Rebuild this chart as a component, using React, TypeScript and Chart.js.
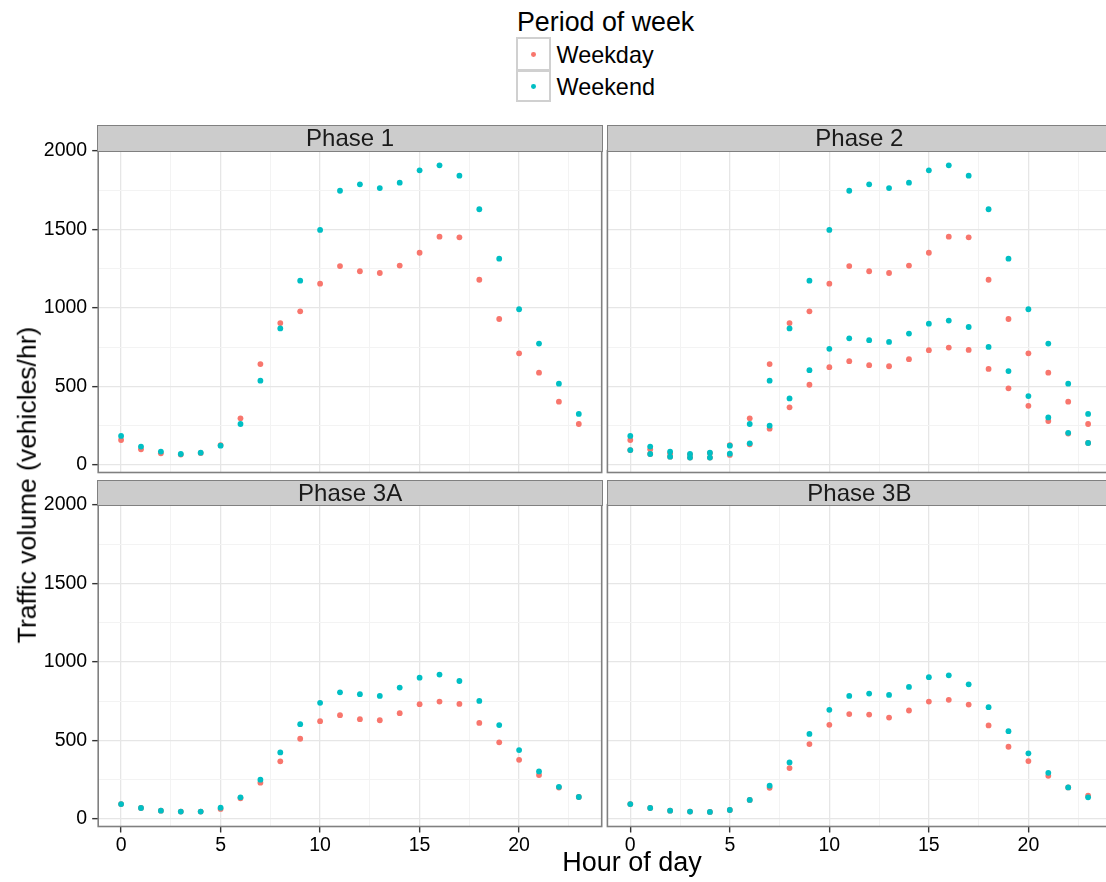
import React, { useEffect, useRef } from "react";
import { Chart, registerables } from "chart.js";

Chart.register(...registerables);

// ---------------- DATA ----------------
const hours = [0, 1, 2, 3, 4, 5, 6, 7, 8, 9, 10, 11, 12, 13, 14, 15, 16, 17, 18, 19, 20, 21, 22, 23];

const phase1Weekday = [159, 100, 74, 66, 76, 127, 297, 643, 904, 979, 1155, 1267, 1234, 1223, 1270, 1352, 1454, 1450, 1180, 930, 711, 588, 403, 261];
const phase1Weekend = [185, 117, 85, 70, 78, 123, 261, 537, 870, 1174, 1497, 1747, 1788, 1764, 1798, 1877, 1909, 1843, 1629, 1314, 992, 773, 518, 325];

const phase3AWeekday = [95, 70, 53, 47, 47, 64, 132, 231, 367, 511, 623, 661, 636, 629, 674, 731, 748, 733, 612, 488, 377, 280, 200, 140];
const phase3AWeekend = [95, 70, 53, 47, 47, 72, 138, 250, 424, 604, 740, 807, 795, 784, 837, 900, 920, 879, 752, 598, 439, 303, 205, 140];

const phase3BWeekday = [95, 70, 53, 47, 45, 57, 121, 199, 324, 477, 600, 668, 665, 646, 691, 748, 759, 729, 596, 460, 369, 275, 201, 148];
const phase3BWeekend = [95, 70, 53, 47, 45, 57, 121, 212, 360, 542, 695, 784, 799, 790, 841, 903, 915, 858, 712, 559, 418, 294, 201, 138];

const xTickValues = [0, 2.5, 5, 7.5, 10, 12.5, 15, 17.5, 20, 22.5];
const xLabelTicks = [0, 5, 10, 15, 20];
const yTickValues = [0, 250, 500, 750, 1000, 1250, 1500, 1750, 2000];
const yLabelTicks = [0, 500, 1000, 1500, 2000];
const xLimits = [-1.15, 24.15];
const yLimits = [-48, 2002];

const legendTitle = "Period of week";
const periodLabels = ["Weekday", "Weekend"];
const periodColors = ["#F8766D", "#00BFC4"];
const xTitle = "Hour of day";
const yTitle = "Traffic volume (vehicles/hr)";

type Group = { weekday: number[]; weekend: number[] };
type PanelDef = { title: string; row: number; col: number; groups: Group[] };

const panelDefs: PanelDef[] = [
  { title: "Phase 1", row: 0, col: 0, groups: [{ weekday: phase1Weekday, weekend: phase1Weekend }] },
  {
    title: "Phase 2",
    row: 0,
    col: 1,
    groups: [
      { weekday: phase1Weekday, weekend: phase1Weekend },
      { weekday: phase3AWeekday, weekend: phase3AWeekend },
    ],
  },
  { title: "Phase 3A", row: 1, col: 0, groups: [{ weekday: phase3AWeekday, weekend: phase3AWeekend }] },
  { title: "Phase 3B", row: 1, col: 1, groups: [{ weekday: phase3BWeekday, weekend: phase3BWeekend }] },
];

// ---------------- LAYOUT ----------------
const FONT = '"Liberation Sans", Arial, Helvetica, sans-serif';
const COL_LEFT = [98.2, 607.4];
const COL_RIGHT = [601.7, 1111];
const ROW_TOP = [150.7, 504.7];
const ROW_BOTTOM = [472.5, 826.5];
const STRIP_TOP = [125, 479.5];
const CANVAS_X = [0, 603];
const CANVAS_W = [604, 512];
const CANVAS_Y = [118, 480];
const CANVAS_H = [382, 402];
const TICK_FONT = 19.5;
const MAJOR_GRID = "#e6e6e6";
const MINOR_GRID = "#f3f3f3";
const BORDER = "#808080";

Chart.defaults.font.family = FONT;

const borderPlugin = {
  id: "panelBorder",
  afterDraw(chart: any) {
    const { ctx, chartArea: a } = chart;
    ctx.save();
    ctx.strokeStyle = BORDER;
    ctx.lineWidth = 1.6;
    ctx.strokeRect(a.left, a.top, a.right - a.left, a.bottom - a.top);
    ctx.restore();
  },
};

function Panel({ def }: { def: PanelDef }) {
  const ref = useRef<HTMLCanvasElement>(null);
  const { row, col } = def;
  const cx = CANVAS_X[col];
  const cy = CANVAS_Y[row];
  const cw = CANVAS_W[col];
  const ch = CANVAS_H[row];

  useEffect(() => {
    if (!ref.current) return;
    const showY = col === 0;
    const showX = row === 1;
    const yAxisW = showY ? COL_LEFT[col] - cx : 0;
    const padLeft = showY ? 0 : COL_LEFT[col] - cx;
    const padRight = cx + cw - COL_RIGHT[col];
    const padTop = ROW_TOP[row] - cy;
    const xAxisH = showX ? 40 : 0;
    const padBottom = cy + ch - ROW_BOTTOM[row] - xAxisH;

    const datasets: any[] = [];
    def.groups.forEach((g) => {
      datasets.push({
        label: periodLabels[1],
        data: hours.map((h, i) => ({ x: h, y: g.weekend[i] })),
        backgroundColor: periodColors[1],
        pointRadius: 2.9,
        pointBorderWidth: 0,
        borderWidth: 0,
        order: 1,
      });
      datasets.push({
        label: periodLabels[0],
        data: hours.map((h, i) => ({ x: h, y: g.weekday[i] })),
        backgroundColor: periodColors[0],
        pointRadius: 2.9,
        pointBorderWidth: 0,
        borderWidth: 0,
        order: 2,
      });
    });

    const chart = new Chart(ref.current, {
      type: "scatter",
      data: { datasets },
      plugins: [borderPlugin],
      options: {
        responsive: false,
        animation: false,
        devicePixelRatio: 1,
        events: [],
        layout: {
          autoPadding: false,
          padding: { left: padLeft, right: padRight, top: padTop, bottom: padBottom },
        },
        plugins: { legend: { display: false }, tooltip: { enabled: false }, title: { display: false } },
        scales: {
          x: {
            type: "linear",
            min: xLimits[0],
            max: xLimits[1],
            afterBuildTicks: (s: any) => {
              s.ticks = xTickValues.map((v) => ({ value: v }));
            },
            afterFit: (s: any) => {
              s.height = xAxisH;
            },
            ticks: {
              display: showX,
              autoSkip: false,
              maxRotation: 0,
              padding: 1,
              color: "#000",
              font: { family: FONT, size: TICK_FONT },
              callback: (v: any) => (xLabelTicks.includes(Number(v)) ? String(v) : ""),
            },
            grid: {
              color: (c: any) => (xLabelTicks.includes(c.tick?.value) ? MAJOR_GRID : MINOR_GRID),
              lineWidth: (c: any) => (xLabelTicks.includes(c.tick?.value) ? 1.3 : 1),
              drawTicks: showX,
              tickLength: 6,
              tickColor: (c: any) => (xLabelTicks.includes(c.tick?.value) ? "#333333" : "rgba(0,0,0,0)"),
              tickWidth: 1.4,
            },
            border: { display: false },
          },
          y: {
            type: "linear",
            min: yLimits[0],
            max: yLimits[1],
            afterBuildTicks: (s: any) => {
              s.ticks = yTickValues.map((v) => ({ value: v }));
            },
            afterFit: (s: any) => {
              s.width = yAxisW;
            },
            ticks: {
              display: showY,
              autoSkip: false,
              padding: 5,
              color: "#000",
              font: { family: FONT, size: TICK_FONT },
              callback: (v: any) => (yLabelTicks.includes(Number(v)) ? String(v) : ""),
            },
            grid: {
              color: (c: any) => (yLabelTicks.includes(c.tick?.value) ? MAJOR_GRID : MINOR_GRID),
              lineWidth: (c: any) => (yLabelTicks.includes(c.tick?.value) ? 1.3 : 1),
              drawTicks: showY,
              tickLength: 6,
              tickColor: (c: any) => (yLabelTicks.includes(c.tick?.value) ? "#333333" : "rgba(0,0,0,0)"),
              tickWidth: 1.4,
            },
            border: { display: false },
          },
        },
      } as any,
    });
    return () => chart.destroy();
  }, []);

  return (
    <canvas
      ref={ref}
      width={cw}
      height={ch}
      style={{ position: "absolute", left: cx, top: cy, width: cw, height: ch }}
    />
  );
}

function Strip({ def }: { def: PanelDef }) {
  const left = COL_LEFT[def.col] - 0.8;
  const right = COL_RIGHT[def.col] + 1.2;
  const top = STRIP_TOP[def.row];
  const bottom = ROW_TOP[def.row] + 0.8;
  return (
    <div
      style={{
        position: "absolute",
        left,
        top,
        width: right - left,
        height: bottom - top,
        boxSizing: "border-box",
        background: "#cccccc",
        border: `1.6px solid ${BORDER}`,
        display: "flex",
        alignItems: "center",
        justifyContent: "center",
        fontSize: 24,
        lineHeight: 1,
        color: "#1a1a1a",
        whiteSpace: "nowrap",
      }}
    >
      {def.title}
    </div>
  );
}

export default function App() {
  useEffect(() => {
    document.body.style.margin = "0";
  }, []);
  return (
    <div
      style={{
        position: "fixed",
        left: 0,
        top: 0,
        width: 1106,
        height: 882,
        background: "#ffffff",
        overflow: "hidden",
        fontFamily: FONT,
        color: "#000",
      }}
    >
      {panelDefs.map((d) => (
        <Panel key={d.title} def={d} />
      ))}
      {panelDefs.map((d) => (
        <Strip key={"s" + d.title} def={d} />
      ))}

      {/* legend */}
      <div style={{ position: "absolute", left: 517, top: 9, fontSize: 26.8, lineHeight: 1, whiteSpace: "nowrap" }}>
        {legendTitle}
      </div>
      {periodLabels.map((lab, i) => (
        <React.Fragment key={lab}>
          <div
            style={{
              position: "absolute",
              left: 516,
              top: i === 0 ? 37 : 69.5,
              width: 34.5,
              height: i === 0 ? 34 : 32.5,
              boxSizing: "border-box",
              border: "2px solid #d0d0d0",
              background: "#fff",
            }}
          />
          <div
            style={{
              position: "absolute",
              left: 533.3 - 2.4,
              top: (i === 0 ? 54.3 : 86.8) - 2.4,
              width: 4.8,
              height: 4.8,
              borderRadius: "50%",
              background: periodColors[i],
            }}
          />
          <div
            style={{
              position: "absolute",
              left: 556.5,
              top: i === 0 ? 43.6 : 75.6,
              fontSize: 23.4,
              lineHeight: 1,
              whiteSpace: "nowrap",
            }}
          >
            {lab}
          </div>
        </React.Fragment>
      ))}

      {/* axis titles */}
      <div
        style={{
          position: "absolute",
          left: 632,
          top: 849,
          transform: "translateX(-50%)",
          fontSize: 27,
          lineHeight: 1,
          whiteSpace: "nowrap",
        }}
      >
        {xTitle}
      </div>
      <div
        style={{
          position: "absolute",
          left: 27,
          top: 485,
          transform: "translate(-50%, -50%) rotate(-90deg)",
          fontSize: 26.5,
          lineHeight: 1,
          whiteSpace: "nowrap",
        }}
      >
        {yTitle}
      </div>
    </div>
  );
}
